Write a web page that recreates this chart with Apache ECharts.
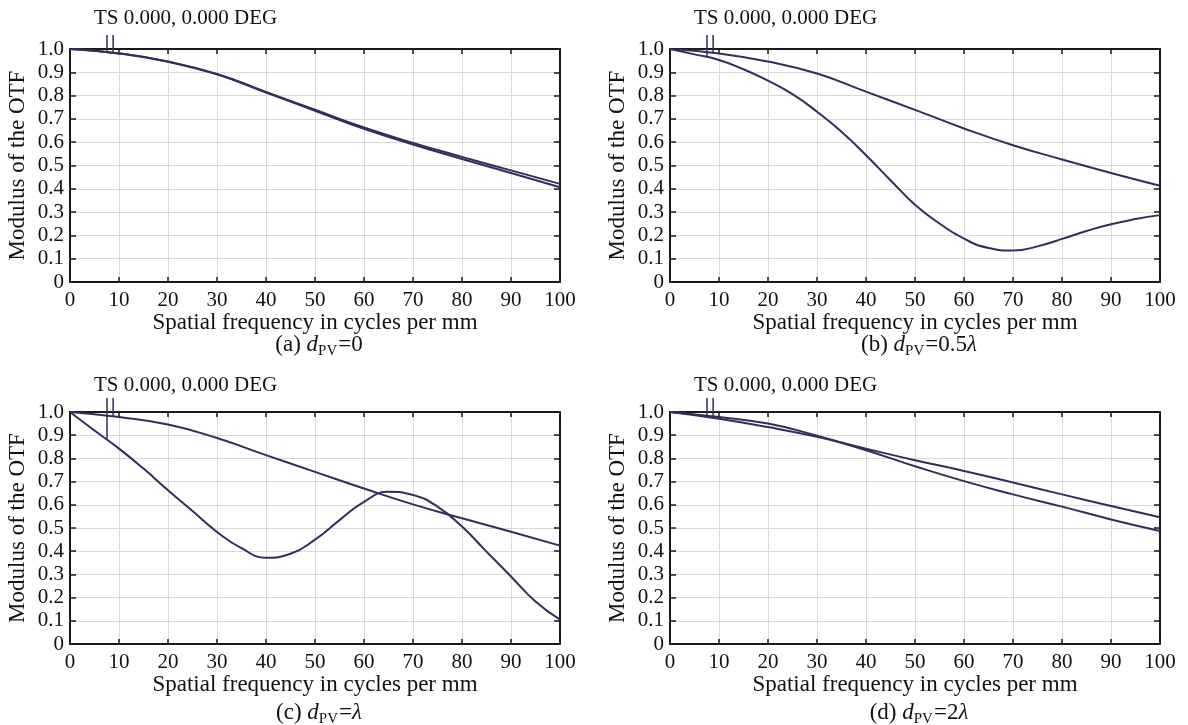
<!DOCTYPE html>
<html>
<head>
<meta charset="utf-8">
<script src="https://cdn.jsdelivr.net/npm/echarts@6/dist/echarts.min.js"></script>
<style>
  html, body { margin: 0; padding: 0; background: #ffffff; }
  #chart { width: 1188px; height: 725px; }
</style>
</head>
<body>
<div id="chart"></div>
<script>
// Spatial frequency samples (cycles per mm)
const freq10 = [0, 10, 20, 30, 40, 50, 60, 70, 80, 90, 100];
const freq5 = [0, 5, 10, 15, 20, 25, 30, 35, 40, 45, 50, 55, 60, 65, 70, 75, 80, 85, 90, 95, 100];
const yTickLabels = ['0', '0.1', '0.2', '0.3', '0.4', '0.5', '0.6', '0.7', '0.8', '0.9', '1.0'];

// (a) dPV = 0
const mtfA1 = [1.0, 0.981, 0.946, 0.893, 0.816, 0.739, 0.663, 0.597, 0.537, 0.479, 0.421];
const mtfA2 = [1.0, 0.981, 0.945, 0.891, 0.813, 0.735, 0.657, 0.590, 0.528, 0.468, 0.407];
// (b) dPV = 0.5 lambda
const mtfB1 = [1.0, 0.981, 0.946, 0.895, 0.817, 0.739, 0.659, 0.587, 0.526, 0.468, 0.413];
const mtfB2 = [1.0, 0.977, 0.953, 0.913, 0.864, 0.806, 0.731, 0.645, 0.544, 0.437, 0.332,
               0.251, 0.186, 0.146, 0.135, 0.153, 0.185, 0.219, 0.248, 0.270, 0.287];
// (c) dPV = lambda
const mtfC1 = [1.0, 0.978, 0.946, 0.888, 0.814, 0.742, 0.670, 0.602, 0.542, 0.484, 0.424];
const mtfC2 = [1.0, 0.920, 0.842, 0.756, 0.663, 0.573, 0.483, 0.413, 0.372, 0.389, 0.450,
               0.534, 0.613, 0.656, 0.642, 0.592, 0.506, 0.398, 0.291, 0.183, 0.105];
// (d) dPV = 2 lambda
const mtfD1 = [1.0, 0.978, 0.950, 0.898, 0.835, 0.766, 0.702, 0.645, 0.592, 0.537, 0.487];
const mtfD2 = [1.0, 0.971, 0.935, 0.893, 0.842, 0.792, 0.746, 0.696, 0.645, 0.595, 0.546];

// Field-marker ticks: frequency of each tick, top of the tick, and where it meets its curve
const markerFreq = [7.55, 8.8];
const markerTop = 1.06;
const markerEndA = [0.986, 0.984];
const markerEndB = [0.967, 0.984];
const markerEndC = [0.881, 0.981];
const markerEndD = [0.978, 0.982];

const panelTitle = 'TS 0.000, 0.000 DEG';
const xName = 'Spatial frequency in cycles per mm';
const yName = 'Modulus of the OTF';
const captions = [
  '(a) {i|d}{sub|PV}=0',
  '(b) {i|d}{sub|PV}=0.5{i|λ}',
  '(c) {i|d}{sub|PV}={i|λ}',
  '(d) {i|d}{sub|PV}=2{i|λ}'
];

const FONT = 'Liberation Serif';
const INK = '#111111';
const CURVE = '#2f2f5c';

const grids = [
  { left: 70, top: 49, width: 490, height: 233 },
  { left: 670, top: 49, width: 490, height: 233 },
  { left: 70, top: 412, width: 490, height: 232 },
  { left: 670, top: 412, width: 490, height: 232 }
];
const titleTops = [8, 8, 375, 375];
const captionOffsets = [63, 63, 69, 69];

const panels = [
  { curves: [[freq10, mtfA1], [freq10, mtfA2]], ends: markerEndA },
  { curves: [[freq10, mtfB1], [freq5, mtfB2]], ends: markerEndB },
  { curves: [[freq10, mtfC1], [freq5, mtfC2]], ends: markerEndC },
  { curves: [[freq10, mtfD1], [freq10, mtfD2]], ends: markerEndD }
];

const frameLine = { show: true, onZero: false, lineStyle: { color: '#1a1a1a', width: 2 } };

const xAxes = [];
const yAxes = [];
grids.forEach((g, i) => {
  xAxes.push({
    type: 'value', gridIndex: i, min: 0, max: 100, interval: 10, position: 'bottom',
    axisLine: frameLine,
    axisTick: { show: true, inside: true, length: 5, lineStyle: { color: '#1a1a1a', width: 1.5 } },
    axisLabel: { color: INK, fontFamily: FONT, fontSize: 21, margin: 8 },
    splitLine: { show: true, lineStyle: { color: '#d9d9d9', width: 1 } },
    name: xName, nameLocation: 'middle', nameGap: 28,
    nameTextStyle: { color: INK, fontFamily: FONT, fontSize: 23 }
  });
  yAxes.push({
    type: 'value', gridIndex: i, min: 0, max: 1, interval: 0.1, position: 'left',
    axisLine: frameLine,
    axisTick: { show: true, inside: true, length: 6, lineStyle: { color: '#1a1a1a', width: 1.5 } },
    axisLabel: {
      color: INK, fontFamily: FONT, fontSize: 21, margin: 6,
      formatter: v => yTickLabels[Math.round(v * 10)]
    },
    splitLine: { show: true, lineStyle: { color: '#d9d9d9', width: 1 } },
    name: yName, nameLocation: 'middle', nameGap: 41,
    nameTextStyle: { color: INK, fontFamily: FONT, fontSize: 23 }
  });
});
// Top and right edges of each frame, with inward ticks
grids.forEach((g, i) => {
  xAxes.push({
    type: 'value', gridIndex: i, min: 0, max: 100, interval: 10, position: 'top',
    axisLine: frameLine,
    axisTick: { show: true, inside: true, length: 5, lineStyle: { color: '#1a1a1a', width: 1.5 } },
    axisLabel: { show: false }, splitLine: { show: false }
  });
  yAxes.push({
    type: 'value', gridIndex: i, min: 0, max: 1, interval: 0.1, position: 'right',
    axisLine: frameLine,
    axisTick: { show: true, inside: true, length: 6, lineStyle: { color: '#1a1a1a', width: 1.5 } },
    axisLabel: { show: false }, splitLine: { show: false }
  });
});

const series = [];
panels.forEach((p, i) => {
  p.curves.forEach(([xs, ys]) => {
    series.push({
      type: 'line', xAxisIndex: i, yAxisIndex: i,
      data: xs.map((x, k) => [x, ys[k]]),
      smooth: 0.5, symbol: 'none', silent: true,
      lineStyle: { color: CURVE, width: 2 }, z: 3
    });
  });
  markerFreq.forEach((f, k) => {
    series.push({
      type: 'line', xAxisIndex: i, yAxisIndex: i, clip: false,
      data: [[f, markerTop], [f, p.ends[k]]],
      symbol: 'none', silent: true,
      lineStyle: { color: CURVE, width: 1.5 }, z: 3
    });
  });
});

const titles = grids.map((g, i) => ({
  text: panelTitle, left: g.left + 24, top: titleTops[i], padding: 0,
  textStyle: { color: INK, fontFamily: FONT, fontSize: 21, fontWeight: 'normal' }
}));

const capRich = {
  i: { fontFamily: FONT, fontSize: 23, fontStyle: 'italic', color: INK, lineHeight: 28, verticalAlign: 'middle' },
  sub: { fontFamily: FONT, fontSize: 15, color: INK, lineHeight: 15, verticalAlign: 'bottom', padding: [0, 1, 0, 0] }
};
const graphics = grids.map((g, i) => ({
  type: 'text',
  x: g.left + g.width / 2 + 4,
  y: g.top + g.height + captionOffsets[i],
  style: {
    text: captions[i], rich: capRich,
    fontFamily: FONT, fontSize: 23, lineHeight: 28, fill: INK,
    align: 'center', verticalAlign: 'middle'
  }
}));

const chart = echarts.init(document.getElementById('chart'), null, { renderer: 'canvas' });
chart.setOption({
  backgroundColor: '#ffffff',
  animation: false,
  title: titles,
  grid: grids,
  xAxis: xAxes,
  yAxis: yAxes,
  series: series,
  graphic: graphics
});
</script>
</body>
</html>
